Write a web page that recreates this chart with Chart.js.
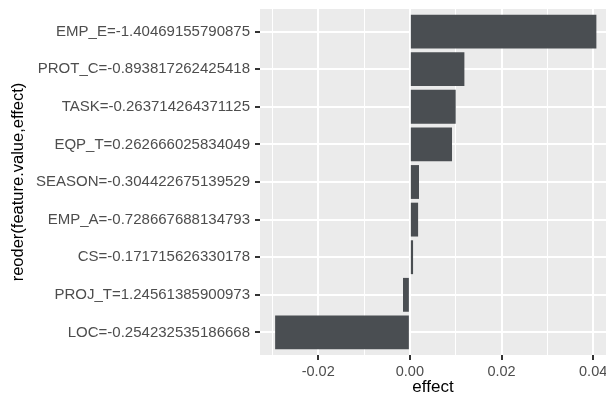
<!DOCTYPE html>
<html>
<head>
<meta charset="utf-8">
<script src="https://cdn.jsdelivr.net/npm/chart.js@4/dist/chart.umd.min.js"></script>
<style>
  html, body { margin: 0; padding: 0; background: #fff; }
  #wrap { width: 606px; height: 396px; position: relative; }
</style>
</head>
<body>
<div id="wrap"><canvas id="effectChart"></canvas></div>
<script>
// feature=value labels, top to bottom (reordered by effect)
const categories = [
  "EMP_E=-1.40469155790875",
  "PROT_C=-0.893817262425418",
  "TASK=-0.263714264371125",
  "EQP_T=0.262666025834049",
  "SEASON=-0.304422675139529",
  "EMP_A=-0.728667688134793",
  "CS=-0.171715626330178",
  "PROJ_T=1.24561385900973",
  "LOC=-0.254232535186668"
];
const effects = [0.0407, 0.0119, 0.0100, 0.0092, 0.0020, 0.0018, 0.0007, -0.0015, -0.0294];

// x grid: major ticks get labels, minor ones only a thin line
const xTicks = [-0.03, -0.02, -0.01, 0, 0.01, 0.02, 0.03, 0.04];
const xMajor = [-0.02, 0, 0.02, 0.04];

const panelBg = {
  id: "panelBg",
  beforeDraw(chart) {
    const a = chart.chartArea;
    const ctx = chart.ctx;
    ctx.save();
    ctx.fillStyle = "#EBEBEB";
    ctx.fillRect(a.left, a.top, a.right - a.left, a.bottom - a.top);
    ctx.restore();
  }
};

const isMajor = (v) => xMajor.includes(v);

new Chart(document.getElementById("effectChart"), {
  type: "bar",
  data: {
    datasets: [{
      data: effects.map((e, i) => ({ x: e, y: i + 1 })),
      backgroundColor: "#4A4E52",
      borderWidth: 0,
      barPercentage: 0.9,
      categoryPercentage: 1
    }]
  },
  options: {
    indexAxis: "y",
    responsive: true,
    maintainAspectRatio: false,
    animation: false,
    layout: { padding: { top: 9, right: 0, bottom: 0, left: 0 } },
    plugins: { legend: { display: false }, tooltip: { enabled: false } },
    scales: {
      x: {
        type: "linear",
        min: -0.0327,
        max: 0.0428,
        border: { display: false },
        afterBuildTicks: (s) => { s.ticks = xTicks.map(v => ({ value: v })); },
        afterFit: (s) => { s.height = 41; s.paddingLeft = 0; s.paddingRight = 0; },
        grid: {
          color: "#FFFFFF",
          lineWidth: (ctx) => ctx.tick && isMajor(ctx.tick.value) ? 2 : 1,
          tickColor: (ctx) => ctx.tick && isMajor(ctx.tick.value) ? "#333333" : "rgba(0,0,0,0)",
          tickLength: 5,
          tickWidth: 2
        },
        ticks: {
          autoSkip: false,
          maxRotation: 0,
          padding: 3,
          color: "#4D4D4D",
          font: { family: "'Liberation Sans', Arial, sans-serif", size: 14.5 },
          callback: (v) => isMajor(v) ? v.toFixed(2) : ""
        },
        title: {
          display: true,
          text: "effect",
          color: "#000000",
          padding: { top: 0, bottom: 0.5 },
          font: { family: "'Liberation Sans', Arial, sans-serif", size: 17, lineHeight: 1 }
        }
      },
      y: {
        type: "linear",
        reverse: true,
        offset: false,
        min: 0.4,
        max: 9.6,
        border: { display: false },
        afterBuildTicks: (s) => { s.ticks = categories.map((c, i) => ({ value: i + 1 })); },
        afterFit: (s) => { s.width = 260; s.paddingTop = 0; s.paddingBottom = 0; },
        grid: {
          offset: false,
          color: "#FFFFFF",
          lineWidth: 2,
          tickColor: "#333333",
          tickLength: 5,
          tickWidth: 2
        },
        ticks: {
          autoSkip: false,
          padding: 5,
          color: "#4D4D4D",
          font: { family: "'Liberation Sans', Arial, sans-serif", size: 15 },
          callback: (v) => categories[v - 1]
        },
        title: {
          display: true,
          text: "reoder(feature.value,effect)",
          color: "#000000",
          padding: { top: 10.5, bottom: 0 },
          font: { family: "'Liberation Sans', Arial, sans-serif", size: 16.5, lineHeight: 1 }
        }
      }
    }
  },
  plugins: [panelBg]
});
</script>
</body>
</html>
